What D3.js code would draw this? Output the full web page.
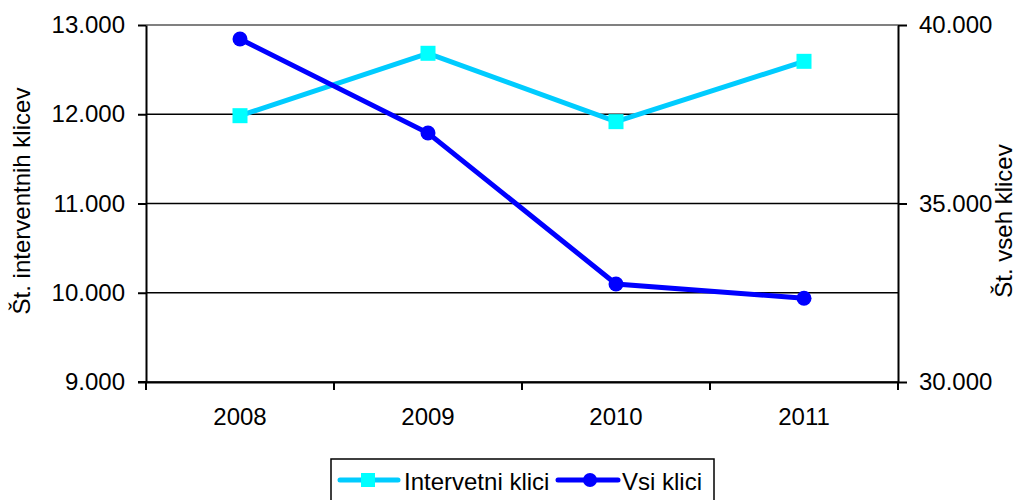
<!DOCTYPE html>
<html>
<head>
<meta charset="utf-8">
<script src="https://cdn.jsdelivr.net/npm/d3@7"></script>
<style>
  body { margin: 0; background: #fff; }
  text { font-family: "Liberation Sans", Arial, sans-serif; fill: #000; }
</style>
</head>
<body>
<svg width="1020" height="500"></svg>
<script>
// data
var years = ["2008", "2009", "2010", "2011"];
var intervetniKlici = [11984, 12683, 11917, 12593];
var vsiKlici = [39608, 36975, 32745, 32345];
var leftTicks = [9000, 10000, 11000, 12000, 13000];
var rightTicks = [30000, 35000, 40000];

var svg = d3.select("svg"),
    plotLeft = 146, plotRight = 898, plotTop = 25, plotBottom = 382;

var loc = d3.formatLocale({ decimal: ",", thousands: ".", grouping: [3], currency: ["", ""] });
var fmt = loc.format(",.0f");

var xScale = d3.scaleBand().domain(years).range([plotLeft, plotRight]).padding(0),
    yLeft = d3.scaleLinear().domain([9000, 13000]).range([plotBottom, plotTop]),
    yRight = d3.scaleLinear().domain([30000, 40000]).range([plotBottom, plotTop]);

// gridlines
svg.append("g")
    .selectAll("line")
    .data(leftTicks)
    .enter().append("line")
    .attr("x1", plotLeft).attr("x2", plotRight)
    .attr("y1", function(d) { return yLeft(d); })
    .attr("y2", function(d) { return yLeft(d); })
    .attr("stroke", function(d) { return d == 13000 ? "#808080" : "#000"; })
    .attr("stroke-width", function(d) { return d == 13000 ? 2 : 1.5; });

// left axis
var gl = svg.append("g")
    .attr("transform", "translate(" + plotLeft + ",0)")
    .call(d3.axisLeft(yLeft).tickValues(leftTicks).tickFormat(fmt).tickSize(8).tickSizeOuter(0).tickPadding(13));
// right axis
var gr = svg.append("g")
    .attr("transform", "translate(" + plotRight + ",0)")
    .call(d3.axisRight(yRight).tickValues(rightTicks).tickFormat(fmt).tickSize(9).tickSizeOuter(0).tickPadding(12));

[gl, gr].forEach(function(g) {
    g.attr("font-size", null).attr("font-family", null);
    g.select(".domain").attr("stroke", "#000").attr("stroke-width", 2);
    g.selectAll(".tick line").attr("stroke", "#000").attr("stroke-width", 2);
    g.selectAll(".tick text").attr("font-size", "24px").attr("fill", "#000");
});

// x axis
var gx = svg.append("g")
    .attr("transform", "translate(0," + plotBottom + ")")
    .call(d3.axisBottom(xScale).tickSize(0).tickPadding(26).tickSizeOuter(0));
gx.attr("font-size", null).attr("font-family", null);
gx.select(".domain").attr("stroke", "#000").attr("stroke-width", 2);
gx.selectAll(".tick text").attr("font-size", "24px").attr("fill", "#000");

var bounds = years.map(function(d) { return xScale(d); }).concat([plotRight]);
gx.selectAll(".sep")
    .data(bounds)
    .enter().append("line")
    .attr("class", "sep")
    .attr("x1", function(d) { return d; }).attr("x2", function(d) { return d; })
    .attr("y1", 0).attr("y2", 8)
    .attr("stroke", "#000").attr("stroke-width", 2);
gx.append("line").attr("x1", plotLeft - 8).attr("x2", plotLeft).attr("y1", 0).attr("y2", 0)
    .attr("stroke", "#000").attr("stroke-width", 2);

// axis titles
svg.append("text")
    .attr("transform", "translate(30," + 201 + ") rotate(-90)")
    .attr("text-anchor", "middle")
    .attr("font-size", "24px")
    .text("Št. interventnih klicev");
svg.append("text")
    .attr("transform", "translate(1012," + 221 + ") rotate(-90)")
    .attr("text-anchor", "middle")
    .attr("font-size", "24px")
    .text("Št. vseh klicev");

var cx = function(d, i) { return xScale(years[i]) + xScale.bandwidth() / 2; };

// Intervetni klici
var lineLeft = d3.line()
    .x(function(d, i) { return cx(d, i); })
    .y(function(d) { return yLeft(d); });
svg.append("path")
    .datum(intervetniKlici)
    .attr("fill", "none")
    .attr("stroke", "#00CCFF")
    .attr("stroke-width", 5)
    .attr("d", lineLeft);
svg.selectAll(".sq")
    .data(intervetniKlici)
    .enter().append("rect")
    .attr("class", "sq")
    .attr("x", function(d, i) { return cx(d, i) - 7.5; })
    .attr("y", function(d) { return yLeft(d) - 7.5; })
    .attr("width", 15).attr("height", 15)
    .attr("fill", "#00FFFF");

// Vsi klici
var lineRight = d3.line()
    .x(function(d, i) { return cx(d, i); })
    .y(function(d) { return yRight(d); });
svg.append("path")
    .datum(vsiKlici)
    .attr("fill", "none")
    .attr("stroke", "#0000FF")
    .attr("stroke-width", 5)
    .attr("d", lineRight);
svg.selectAll(".dot")
    .data(vsiKlici)
    .enter().append("circle")
    .attr("class", "dot")
    .attr("cx", function(d, i) { return cx(d, i); })
    .attr("cy", function(d) { return yRight(d); })
    .attr("r", 7.5)
    .attr("fill", "#0000FF");

// legend
var lg = svg.append("g");
lg.append("rect")
    .attr("x", 331).attr("y", 459).attr("width", 383).attr("height", 44)
    .attr("fill", "#fff").attr("stroke", "#000").attr("stroke-width", 1.5);
lg.append("line").attr("x1", 340).attr("x2", 398).attr("y1", 480).attr("y2", 480)
    .attr("stroke", "#00CCFF").attr("stroke-width", 5).attr("stroke-linecap", "round");
lg.append("rect").attr("x", 361).attr("y", 473).attr("width", 14).attr("height", 14).attr("fill", "#00FFFF");
lg.append("text").attr("x", 404).attr("y", 490).attr("font-size", "24px").text("Intervetni klici");
lg.append("line").attr("x1", 558).attr("x2", 618).attr("y1", 480).attr("y2", 480)
    .attr("stroke", "#0000FF").attr("stroke-width", 5).attr("stroke-linecap", "round");
lg.append("circle").attr("cx", 590).attr("cy", 480).attr("r", 7).attr("fill", "#0000FF");
lg.append("text").attr("x", 622).attr("y", 490).attr("font-size", "24px").text("Vsi klici");
</script>
</body>
</html>
